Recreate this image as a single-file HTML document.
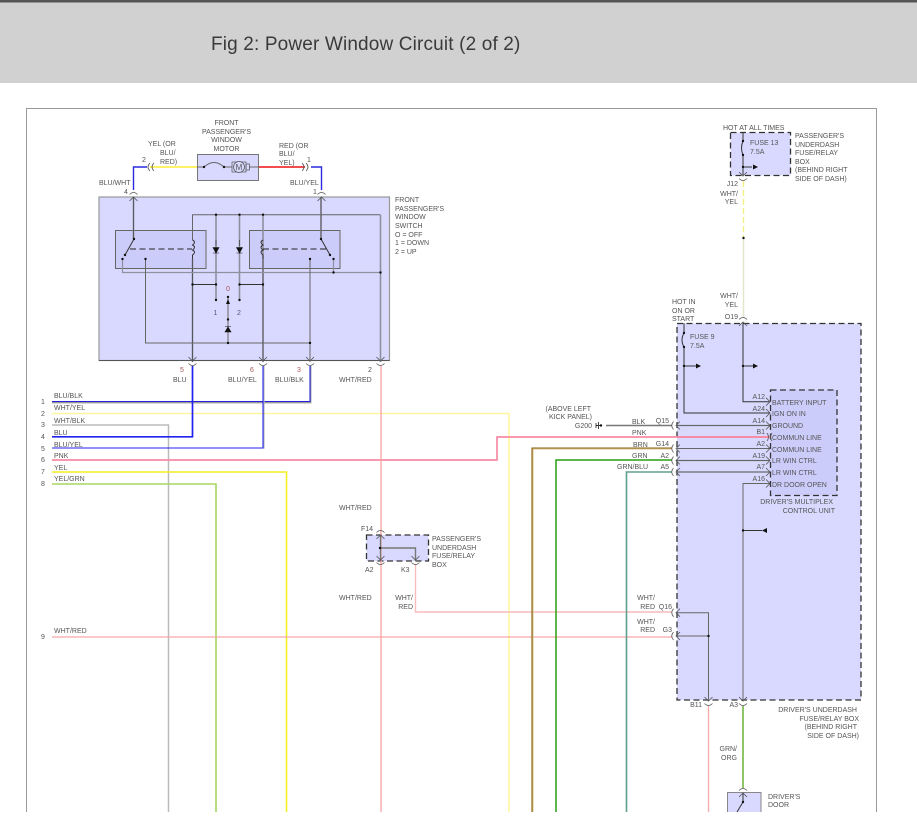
<!DOCTYPE html>
<html><head><meta charset="utf-8"><style>
html,body{margin:0;padding:0;background:#fff;width:917px;height:836px;overflow:hidden}
svg{display:block;position:absolute;left:0;top:0}
text{font-family:"Liberation Sans",sans-serif;font-size:7px;fill:#555}
.e{text-anchor:end}.m{text-anchor:middle}
.t{font-size:19px;fill:#3a3a3a;letter-spacing:.15px}
.box{fill:#d9d9ff;stroke:#777;stroke-width:1}
.in{fill:#ccccfb;stroke:#666;stroke-width:1}
.dash{fill:#d9d9ff;stroke:#333;stroke-width:1.3;stroke-dasharray:6 3.5}
.w{fill:none;stroke:#666;stroke-width:1}
.g{fill:none;stroke:#8f8f9f;stroke-width:1.6}
.k{fill:none;stroke:#333;stroke-width:1}
.c{fill:none;stroke:#555;stroke-width:.8}
</style></head><body>
<svg width="917" height="836" viewBox="0 0 917 836" xmlns="http://www.w3.org/2000/svg">
<defs>
<circle id="d" r="1.2" fill="#111"/>
<g id="dn"><path class="c" d="M-4,-4 L0,0 L4,-4"/><path class="c" d="M-4,2.5 Q0,6.5 4,2.5"/></g>
<g id="up"><path class="c" d="M-4,4 L0,0 L4,4"/><path class="c" d="M-4,-2.5 Q0,-6.5 4,-2.5"/></g>
<g id="lf"><path class="c" d="M4,-4 L0,0 L4,4"/><path class="c" d="M-2.5,-4 Q-6,0 -2.5,4"/></g>
<g id="rt"><path class="c" d="M-4,-4 L0,0 L-4,4"/></g>
<path id="ar" d="M0,-2.5 L5,0 L0,2.5 Z" fill="#111"/>
<path id="dio" d="M-3,-2.5 L3,-2.5 L0,3 Z M-3,3 L3,3" fill="#111" stroke="#111" stroke-width=".6"/>
</defs>

<rect x="0" y="0" width="917" height="83" fill="#d1d1d1"/>
<rect x="0" y="0" width="917" height="2.5" fill="#555"/>
<text class="t" x="211" y="50">Fig 2: Power Window Circuit (2 of 2)</text>

<path d="M26.5,812 V108.5 H876.5 V812" fill="none" stroke="#999" stroke-width="1"/>

<!-- Boxes -->
<rect class="box" x="99" y="197" width="290.5" height="163.5" style="stroke:#999;stroke-width:1.2"/>
<path d="M99,360.5 H389.5" stroke="#555" stroke-width="1"/>
<rect class="in" x="115.5" y="230.5" width="90.5" height="38"/>
<rect class="in" x="249.5" y="230.5" width="90.5" height="38"/>
<rect class="box" x="197.5" y="154.5" width="61" height="26"/>
<rect class="dash" x="730.5" y="132.5" width="60" height="43"/>
<rect class="dash" x="677" y="323.5" width="184" height="376.5"/>
<rect x="770.5" y="390" width="66.5" height="105.5" fill="#ccccfb" stroke="#333" stroke-width="1.3" stroke-dasharray="6 3.5"/>
<rect class="dash" x="366.5" y="535" width="62" height="26"/>
<rect class="box" x="727.5" y="792.5" width="33.5" height="30" style="stroke:#888"/>

<!-- Motor -->
<path d="M150,167 H197" stroke="#ffee33" stroke-width="1.6" fill="none"/>
<path d="M259,167 H305" stroke="#ee1111" stroke-width="1.6" fill="none"/>
<path d="M133.5,190 V167 H147" stroke="#2a2ae0" stroke-width="1.4" fill="none"/>
<path d="M311,167 H321.5 V190" stroke="#2a2ae0" stroke-width="1.4" fill="none"/>
<path d="M150,163 Q146,167 150,171 M154,163 Q150,167 154,171" class="c"/>
<path d="M306,163 Q310,167 306,171 M302,163 Q306,167 302,171" class="c"/>
<path class="w" d="M197,167 H204 Q214,158 224,167 H232 M249,167 H259" stroke-width=".8"/>
<use href="#d" x="204" y="167"/><use href="#d" x="224" y="167"/>
<rect x="232" y="162" width="14" height="10" fill="none" stroke="#555" stroke-width=".7"/>
<rect x="246" y="164" width="3.5" height="6" fill="none" stroke="#555" stroke-width=".7"/>
<circle cx="239" cy="167" r="5.5" fill="#d9d9ff" stroke="#555" stroke-width=".8"/>
<text class="m" x="239" y="170" style="font-size:8px">M</text>

<!-- Switch internals -->
<path class="g" d="M133.5,197 V239"/><path class="k" d="M133.5,197 V239" style="stroke-width:.6"/>
<path class="g" d="M321,197 V239"/><path class="k" d="M321,197 V239" style="stroke-width:.6"/>
<path class="w" d="M192.5,240 V214.7 H380.5"/>
<path class="g" d="M380.5,214.7 V362 M216,214.7 V300 M239.5,214.7 V300 M263,214.7 V362 M192.5,259 V362"/>
<path class="k" d="M216,240 V246 M239.5,240 V246 M192.5,259 V362 M263,259 V362" style="stroke-width:.6"/>
<path class="g" d="M122.5,259 V272.5 H380.5 M333.5,259 V272.5" style="stroke-width:1.2"/>
<path class="w" d="M145.5,259 V343 H310 V362 M310,259 V343 M228,343 V297"/>
<path class="k" d="M134,239 L125,255 M321,239 L330,255 M192.5,284.5 H216 M239.5,284.5 H263"/>
<path d="M130,249 H192 M263,249 H326" stroke="#222" stroke-width="1" stroke-dasharray="6 3.5"/>
<path class="k" d="M192.5,240 q4,2 0,5 q4,2 0,5 q4,2 0,5 q0,3 0,4 M263,240 q-4,2 0,5 q-4,2 0,5 q-4,2 0,5 q0,3 0,4"/>
<use href="#dio" x="216" y="250"/><use href="#dio" x="239.5" y="250"/>
<path d="M225,332 L231,332 L228,327 Z M225,326.5 H231" fill="#111" stroke="#111" stroke-width=".6"/>
<path d="M226,304 L230,304 L228,299 Z" fill="#111"/>
<g>
<use href="#d" x="216" y="214.7"/><use href="#d" x="239.5" y="214.7"/><use href="#d" x="263" y="214.7"/>
<use href="#d" x="134" y="239"/><use href="#d" x="321" y="239"/>
<use href="#d" x="125" y="255"/><use href="#d" x="330" y="255"/>
<use href="#d" x="122.5" y="259"/><use href="#d" x="145.5" y="259"/><use href="#d" x="310" y="259"/><use href="#d" x="333.5" y="259"/>
<use href="#d" x="333.5" y="272.5"/><use href="#d" x="380.5" y="272.5"/>
<use href="#d" x="192.5" y="284.5"/><use href="#d" x="216" y="284.5"/><use href="#d" x="239.5" y="284.5"/><use href="#d" x="263" y="284.5"/>
<use href="#d" x="216" y="300"/><use href="#d" x="239.5" y="300"/><use href="#d" x="228" y="297"/><use href="#d" x="228" y="319.5"/>
<use href="#d" x="228" y="343"/><use href="#d" x="310" y="343"/>
</g>
<use href="#up" x="133.5" y="197"/><use href="#up" x="321.5" y="197"/>
<use href="#dn" x="192.5" y="361"/><use href="#dn" x="263" y="361"/><use href="#dn" x="310" y="361"/><use href="#dn" x="380.5" y="361"/>

<!-- Harness wires -->
<path d="M52,402.5 H310.5 V366" fill="none" stroke="#999" stroke-width="1.8"/>
<path d="M52,401.5 H310 V366" fill="none" stroke="#2222dd" stroke-width="1.1"/>
<path d="M52,413.5 H509 V812" fill="none" stroke="#fdf6a0" stroke-width="1.6"/>
<path d="M52,425 H168.5 V812" fill="none" stroke="#bbb" stroke-width="1.5"/>
<path d="M52,436.8 H192.5 V366" fill="none" stroke="#2222ee" stroke-width="1.7"/>
<path d="M264,366 V448.7" fill="none" stroke="#bbb" stroke-width="1.2"/>
<path d="M52,448 H263 V366" fill="none" stroke="#2222ee" stroke-width="1.1"/>
<path d="M52,460 H497 V437 H770" fill="none" stroke="#f98aa4" stroke-width="1.7"/>
<path d="M52,472 H286.5 V812" fill="none" stroke="#f5ee22" stroke-width="1.6"/>
<path d="M52,484 H216 V812" fill="none" stroke="#a9d65f" stroke-width="1.6"/>
<path d="M52,637 H672" fill="none" stroke="#f7a8a8" stroke-width="1.3"/>
<path d="M381,366 V812" fill="none" stroke="#f7a8a8" stroke-width="1.4"/>
<path d="M415.5,564 V612 H672" fill="none" stroke="#f7bcbc" stroke-width="1.4"/>
<path d="M532.5,812 V448.5 H672" fill="none" stroke="#d8c690" stroke-width="2"/>
<path d="M532,812 V448 H672" fill="none" stroke="#8a5c0a" stroke-width="1.1"/>
<path d="M556,812 V460 H672" fill="none" stroke="#2a9d12" stroke-width="1.5"/>
<path d="M626.5,812 V472 H672" fill="none" stroke="#5f9f90" stroke-width="1.6"/>
<path d="M606,425.5 H672" fill="none" stroke="#777" stroke-width="1.4"/>
<path d="M708.5,706 V812" fill="none" stroke="#f7a8a8" stroke-width="1.3"/>
<path d="M743,706 V788" fill="none" stroke="#82bf5a" stroke-width="1.8"/>
<path d="M743.5,181 V238" fill="none" stroke="#f2ee88" stroke-width="1.4" stroke-dasharray="6 3"/>
<path d="M743.5,238 V318" fill="none" stroke="#e3e6cc" stroke-width="1.5"/>
<use href="#d" x="743.5" y="238"/>

<!-- G200 -->
<path d="M596,425.5 H601 M598.5,422 V429" stroke="#333" stroke-width=".9"/>
<path d="M596,423 V428" stroke="#333" stroke-width=".9"/>
<use href="#d" x="601" y="425.5"/>

<!-- Fuse 13 box -->
<path class="k" d="M743,132 V141 Q740,148 743,155 V175 M743,167 H752"/>
<use href="#d" x="743" y="141"/><use href="#d" x="743" y="155"/><use href="#d" x="743" y="167"/>
<use href="#ar" x="753" y="167"/>
<use href="#dn" x="743" y="176"/>

<!-- Control unit internals -->
<path class="k" d="M743,323 V401.7 H770 M684,323 V333 Q680,340 684,347 V413 H770 M684,366 H696 M743,366 H753"/>
<use href="#d" x="684" y="333"/><use href="#d" x="684" y="347"/><use href="#d" x="684" y="366"/><use href="#d" x="743" y="366"/>
<use href="#ar" x="696" y="366"/><use href="#ar" x="753" y="366"/>
<use href="#up" x="743" y="322"/>
<path class="g" d="M677,425.5 H770 M677,460.5 H770 M677,472 H770" style="stroke:#a8a8c0"/>
<path class="w" d="M677,425.5 H770 M677,448.5 H770 M677,460.5 H770 M677,472 H770"/>
<path d="M677,437 H770" stroke="#f98aa4" stroke-width="1.7"/>
<path class="w" d="M770,483.5 H743 V700"/>
<path class="k" d="M743,530.5 H762"/><use href="#d" x="743" y="530.5"/>
<path d="M767,528 L762,530.5 L767,533 Z" fill="#111"/>
<path class="w" d="M677,612.7 H708.5 V700 M677,636 H708.5"/>
<use href="#d" x="708.5" y="636"/>
<use href="#lf" x="676" y="425.5"/><use href="#lf" x="676" y="448.5"/><use href="#lf" x="676" y="460.5"/><use href="#lf" x="676" y="472"/>
<use href="#lf" x="676" y="612.7"/><use href="#lf" x="676" y="636"/>
<use href="#rt" x="770" y="401.7"/><use href="#rt" x="770" y="413"/><use href="#rt" x="770" y="425.5"/><use href="#rt" x="770" y="448.5"/><use href="#rt" x="770" y="460.5"/><use href="#rt" x="770" y="472"/><use href="#rt" x="770" y="483.5"/>
<path class="c" d="M772,433 Q769,437 772,441 M767,433 Q770,437 767,441"/>
<use href="#dn" x="708.5" y="701"/><use href="#dn" x="743" y="701"/>

<!-- F14 box internals -->
<path class="w" d="M380.5,535 V561 M380.5,548 H415.5 V561" style="stroke-width:1.4;stroke:#777"/>
<use href="#d" x="380" y="548"/>
<use href="#up" x="380.5" y="535"/><use href="#dn" x="380.5" y="560"/><use href="#dn" x="415.5" y="560"/>

<!-- Door switch -->
<path class="k" d="M743,793 V802 L737,812"/>
<use href="#d" x="743" y="802"/>
<use href="#up" x="743" y="793"/>

<!-- White mask below cut -->
<rect x="0" y="812" width="917" height="24" fill="#fff"/>

<!-- Text -->
<text class="m" x="226.5" y="125">FRONT</text>
<text class="m" x="226.5" y="134">PASSENGER'S</text>
<text class="m" x="226.5" y="142">WINDOW</text>
<text class="m" x="226.5" y="151">MOTOR</text>
<text x="148" y="146">YEL (OR</text>
<text x="160" y="155">BLU/</text>
<text x="160" y="164">RED)</text>
<text x="142" y="162">2</text>
<text x="279" y="148">RED (OR</text>
<text x="279" y="156">BLU/</text>
<text x="279" y="165">YEL)</text>
<text x="307" y="162">1</text>
<text x="99" y="185">BLU/WHT</text>
<text x="290" y="185">BLU/YEL</text>
<text x="124" y="194">4</text>
<text x="313" y="194">1</text>
<text x="395" y="202">FRONT</text>
<text x="395" y="211">PASSENGER'S</text>
<text x="395" y="219">WINDOW</text>
<text x="395" y="228">SWITCH</text>
<text x="395" y="237">O = OFF</text>
<text x="395" y="245">1 = DOWN</text>
<text x="395" y="254">2 = UP</text>
<text x="226" y="291" style="fill:#a55">0</text>
<text x="213.5" y="315" style="fill:#557">1</text>
<text x="237" y="315" style="fill:#557">2</text>
<text x="180" y="372" style="fill:#a55">5</text>
<text x="250" y="372" style="fill:#a55">6</text>
<text x="297" y="372" style="fill:#a55">3</text>
<text x="368" y="372">2</text>
<text x="173" y="382">BLU</text>
<text x="228" y="382">BLU/YEL</text>
<text x="275" y="382">BLU/BLK</text>
<text x="339" y="382">WHT/RED</text>

<text x="41" y="404">1</text><text x="41" y="416">2</text><text x="41" y="427">3</text><text x="41" y="439">4</text><text x="41" y="451">5</text><text x="41" y="462">6</text><text x="41" y="474">7</text><text x="41" y="486">8</text><text x="41" y="639">9</text>
<text x="54" y="398">BLU/BLK</text>
<text x="54" y="410">WHT/YEL</text>
<text x="54" y="423">WHT/BLK</text>
<text x="54" y="435">BLU</text>
<text x="54" y="447">BLU/YEL</text>
<text x="54" y="458">PNK</text>
<text x="54" y="470">YEL</text>
<text x="54" y="481">YEL/GRN</text>
<text x="54" y="633">WHT/RED</text>

<text x="339" y="510">WHT/RED</text>
<text x="339" y="600">WHT/RED</text>
<text x="361" y="531">F14</text>
<text x="365" y="572">A2</text>
<text x="401" y="572">K3</text>
<text x="432" y="541">PASSENGER'S</text>
<text x="432" y="550">UNDERDASH</text>
<text x="432" y="558">FUSE/RELAY</text>
<text x="432" y="567">BOX</text>
<text class="e" x="413" y="600">WHT/</text>
<text class="e" x="413" y="609">RED</text>

<text x="723" y="130">HOT AT ALL TIMES</text>
<text x="750" y="145">FUSE 13</text>
<text x="750" y="154">7.5A</text>
<text x="795" y="138">PASSENGER'S</text>
<text x="795" y="147">UNDERDASH</text>
<text x="795" y="155">FUSE/RELAY</text>
<text x="795" y="164">BOX</text>
<text x="795" y="172">(BEHIND RIGHT</text>
<text x="795" y="181">SIDE OF DASH)</text>
<text class="e" x="738" y="186">J12</text>
<text class="e" x="738" y="196">WHT/</text>
<text class="e" x="738" y="204">YEL</text>
<text class="e" x="738" y="298">WHT/</text>
<text class="e" x="738" y="307">YEL</text>
<text class="e" x="738" y="319">O19</text>
<text x="672" y="304">HOT IN</text>
<text x="672" y="313">ON OR</text>
<text x="672" y="321">START</text>
<text x="690" y="339">FUSE 9</text>
<text x="690" y="348">7.5A</text>

<text class="e" x="591" y="411">(ABOVE LEFT</text>
<text class="e" x="592" y="419">KICK PANEL)</text>
<text class="e" x="592" y="428">G200</text>
<text x="632" y="424">BLK</text>
<text x="632" y="435">PNK</text>
<text x="633" y="447">BRN</text>
<text x="632" y="458">GRN</text>
<text x="617" y="469">GRN/BLU</text>
<text class="e" x="669" y="423">Q15</text>
<text class="e" x="669" y="446">G14</text>
<text class="e" x="669" y="458">A2</text>
<text class="e" x="669" y="469">A5</text>
<text class="e" x="765" y="399">A12</text>
<text class="e" x="765" y="411">A24</text>
<text class="e" x="765" y="423">A14</text>
<text class="e" x="765" y="434">B1</text>
<text class="e" x="765" y="446">A2</text>
<text class="e" x="765" y="458">A19</text>
<text class="e" x="765" y="469">A7</text>
<text class="e" x="765" y="481">A16</text>
<text x="772" y="405">BATTERY INPUT</text>
<text x="772" y="416">IGN ON IN</text>
<text x="772" y="428">GROUND</text>
<text x="772" y="440">COMMUN LINE</text>
<text x="772" y="452">COMMUN LINE</text>
<text x="772" y="463">LR WIN CTRL</text>
<text x="772" y="475">LR WIN CTRL</text>
<text x="772" y="487">DR DOOR OPEN</text>
<text class="e" x="833" y="504">DRIVER'S MULTIPLEX</text>
<text class="e" x="835" y="513">CONTROL UNIT</text>
<text class="e" x="655" y="600">WHT/</text>
<text class="e" x="655" y="609">RED</text>
<text class="e" x="672" y="609">Q16</text>
<text class="e" x="655" y="624">WHT/</text>
<text class="e" x="655" y="632">RED</text>
<text class="e" x="672" y="632">G3</text>
<text class="e" x="702" y="707">B11</text>
<text class="e" x="738" y="707">A3</text>
<text class="e" x="857" y="712">DRIVER'S UNDERDASH</text>
<text class="e" x="859" y="721">FUSE/RELAY BOX</text>
<text class="e" x="857" y="729">(BEHIND RIGHT</text>
<text class="e" x="859" y="738">SIDE OF DASH)</text>
<text class="e" x="737" y="751">GRN/</text>
<text class="e" x="737" y="760">ORG</text>
<text x="768" y="799">DRIVER'S</text>
<text x="768" y="807">DOOR</text>
<rect x="760" y="812" width="80" height="24" fill="#fff"/>
</svg>
</body></html>
